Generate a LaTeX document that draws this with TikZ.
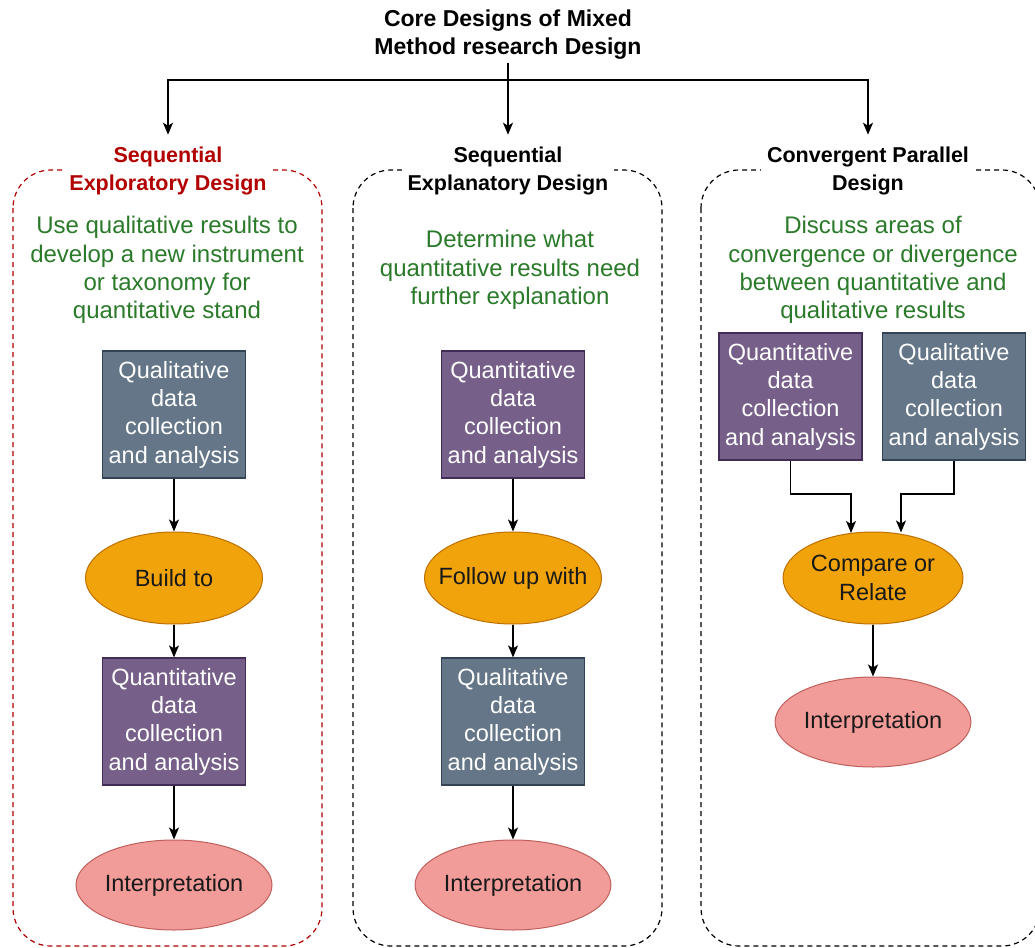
\documentclass[tikz,border=0pt]{standalone}
\usepackage{fontspec}
\setmainfont{Liberation Sans}
\usetikzlibrary{shapes.geometric,arrows.meta,calc}
\definecolor{qlfill}{HTML}{647687}
\definecolor{qlline}{HTML}{314354}
\definecolor{qnfill}{HTML}{76608A}
\definecolor{qnline}{HTML}{432D57}
\definecolor{orfill}{HTML}{F0A30A}
\definecolor{orline}{HTML}{BD7000}
\definecolor{pkfill}{HTML}{F19C99}
\definecolor{pkline}{HTML}{C0605C}
\definecolor{redtxt}{HTML}{B20000}
\definecolor{greentxt}{HTML}{2A7A2A}
\tikzset{
  bodyfont/.style={font=\fontsize{23.5}{28.3}\selectfont},
  qlbox/.style={rectangle, draw=qlline, fill=qlfill, line width=1.2pt, minimum width=143pt, minimum height=127pt, inner sep=0pt, text=white, align=center, bodyfont},
  qnbox/.style={rectangle, draw=qnline, fill=qnfill, line width=1.2pt, minimum width=143pt, minimum height=127pt, inner sep=0pt, text=white, align=center, bodyfont},
  orell/.style={ellipse, draw=orline, fill=orfill, line width=1pt, minimum width=177pt, minimum height=92pt, inner sep=0pt, align=center, bodyfont, text={black!90}},
  pkell/.style={ellipse, draw=pkline, fill=pkfill, line width=1pt, minimum width=195pt, minimum height=90pt, inner sep=0pt, align=center, bodyfont, text={black!90}},
  greennote/.style={align=center, text=greentxt, font=\fontsize{24}{28.3}\selectfont},
  sectitle/.style={align=center, fill=white, inner xsep=6pt, inner ysep=12pt, font=\fontsize{21.5}{28}\selectfont\bfseries},
  container/.style={dashed, dash pattern=on 5pt off 4pt, line width=1.2pt, rounded corners=38pt},
  arr/.style={line width=1.4pt, -{Stealth[length=12pt,width=10pt,inset=3pt]}},
  plain/.style={line width=1.4pt}
}
\begin{document}
\begin{tikzpicture}[x=1pt,y=-1pt]
\useasboundingbox (0,0) rectangle (1035,947);
\fill[white] (0,0) rectangle (1035,947);

% containers
\draw[container, draw=redtxt] (13,170) rectangle (322,946);
\draw[container, draw=black] (353,170) rectangle (662,946);
\draw[container, draw=black] (701,170) rectangle (1040,946);

% main title
\node[align=center, font=\fontsize{23}{28}\selectfont\bfseries] (title) at (508,35) {Core Designs of Mixed\\Method research Design};
\coordinate (hub) at (508,80);

% section titles
\node[sectitle, text=redtxt] (t1) at (168,171) {Sequential\\Exploratory Design};
\node[sectitle, text=black] (t2) at (508,171) {Sequential\\Explanatory Design};
\node[sectitle, text=black] (t3) at (868,171) {Convergent Parallel\\Design};

\draw[plain] (title) -- (hub);
\draw[arr] (hub) -| (t1.north);
\draw[arr] (hub) -- (t2.north);
\draw[arr] (hub) -| (t3.north);

% green notes
\node[greennote] (g1) at (167,270) {Use qualitative results to\\develop a new instrument\\or taxonomy for\\quantitative stand};
\node[greennote] (g2) at (510,270) {Determine what\\quantitative results need\\further explanation};
\node[greennote] (g3) at (873,270) {Discuss areas of\\convergence or divergence\\between quantitative and\\qualitative results};

% left column
\node[qlbox] (l1) at (174,414.5) {Qualitative\\data\\collection\\and analysis};
\node[orell] (l2) at (174,578) {Build to};
\node[qnbox] (l3) at (174,721.5) {Quantitative\\data\\collection\\and analysis};
\node[pkell, minimum width=196pt] (l4) at (174,885) {Interpretation};
\draw[arr] (l1) -- (l2);
\draw[arr] (l2) -- (l3);
\draw[arr] (l3) -- (l4);

% middle column
\node[qnbox] (m1) at (513,414.5) {Quantitative\\data\\collection\\and analysis};
\node[orell] (m2) at (513,578) {\makebox[0pt]{Follow up with}};
\node[qlbox] (m3) at (513,721.5) {Qualitative\\data\\collection\\and analysis};
\node[pkell, minimum width=194pt] (m4) at (513,885) {Interpretation};
\draw[arr] (m1) -- (m2);
\draw[arr] (m2) -- (m3);
\draw[arr] (m3) -- (m4);

% right column
\node[qnbox] (r1) at (790.5,396.5) {Quantitative\\data\\collection\\and analysis};
\node[qlbox] (r2) at (954,396.5) {Qualitative\\data\\collection\\and analysis};
\node[orell, minimum width=180pt] (r3) at (873,578) {Compare or\\Relate};
\node[pkell, minimum width=194pt] (r4) at (873,722) {Interpretation};
\coordinate (j1) at (851,494);
\coordinate (j2) at (901,494);
\draw[arr] (r1.south) |- (j1) -- ($(j1 |- r3.north)+(0,1.5)$);
\draw[arr] (r2.south) |- (j2) -- ($(j2 |- r3.north)+(0,1)$);
\draw[arr] (r3) -- (r4);
\end{tikzpicture}
\end{document}
